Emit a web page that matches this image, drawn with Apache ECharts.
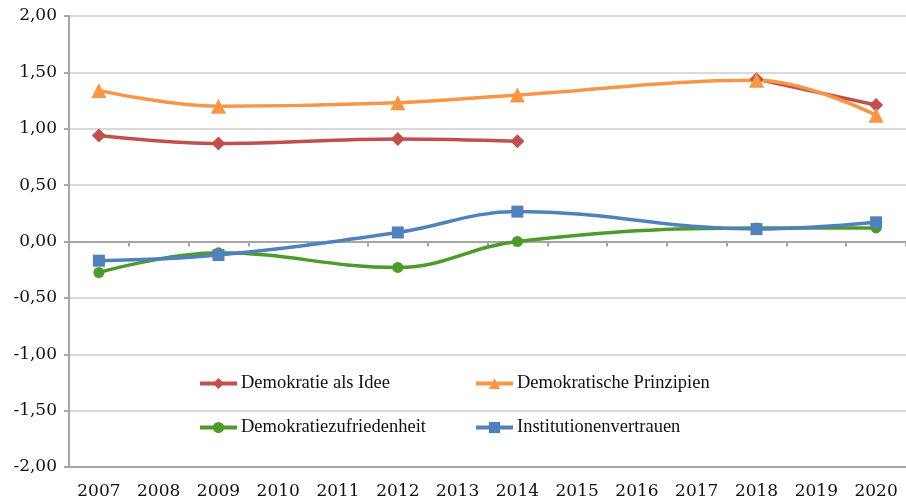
<!DOCTYPE html>
<html><head><meta charset="utf-8">
<script src="https://cdn.jsdelivr.net/npm/echarts@6/dist/echarts.min.js"></script>
<style>html,body{margin:0;padding:0;background:#fff}#c{width:906px;height:503px}</style>
</head><body><div id="c"></div>
<script>
const years = ['2007','2008','2009','2010','2011','2012','2013','2014','2015','2016','2017','2018','2019','2020'];
const idee1 = [['2007',0.94],['2009',0.87],['2012',0.91],['2014',0.89]];
const idee2 = [['2018',1.44],['2020',1.21]];
const prinzipien = [['2007',1.34],['2009',1.20],['2012',1.23],['2014',1.30],['2018',1.43],['2020',1.12]];
const zufriedenheit = [['2007',-0.275],['2009',-0.10],['2012',-0.23],['2014',0.0],['2018',0.12],['2020',0.12]];
const vertrauen = [['2007',-0.17],['2009',-0.12],['2012',0.08],['2014',0.265],['2018',0.11],['2020',0.17]];
const names = ['Demokratie als Idee','Demokratische Prinzipien','Demokratiezufriedenheit','Institutionenvertrauen'];

const FONT = 'Liberation Serif';
const NUMFONT = 'DejaVu Serif';
const chart = echarts.init(document.getElementById('c'), null, {renderer:'canvas'});
function lineSeries(name, data, color, symbol, size){
  return {name, type:'line', data, xAxisIndex:0, smooth:0.4, symbol, symbolSize:size,
    lineStyle:{width:3.5,color}, itemStyle:{color}, emphasis:{disabled:true}, z:3};
}
const legendBase = {orient:'horizontal', itemWidth:37, itemHeight:14, itemGap:4,
  lineStyle:{width:4},
  textStyle:{fontFamily:FONT,fontSize:18.5,color:'#111',padding:[0,0,0,-1]}};
chart.setOption({
  animation:false,
  grid:{left:69,right:0,top:16,bottom:36,containLabel:false},
  legend:[
    Object.assign({},legendBase,{data:[names[0]],left:193,top:369}),
    Object.assign({},legendBase,{data:[names[1]],left:469,top:369}),
    Object.assign({},legendBase,{data:[names[2]],left:193,top:413}),
    Object.assign({},legendBase,{data:[names[3]],left:469,top:413})
  ],
  xAxis:[
    {type:'category',data:years,boundaryGap:true,position:'bottom',
     axisLine:{onZero:false,lineStyle:{color:'#a6a6a6',width:2}},
     axisTick:{show:false},
     axisLabel:{fontFamily:NUMFONT,fontSize:17,color:'#111',margin:16},
     splitLine:{show:false}},
    {type:'category',data:years,boundaryGap:true,position:'bottom',
     axisLine:{onZero:true,lineStyle:{color:'#a6a6a6',width:2}},
     axisTick:{show:true,inside:false,length:5,lineStyle:{color:'#a6a6a6',width:2}},
     axisLabel:{show:false},splitLine:{show:false}}
  ],
  yAxis:{type:'value',min:-2,max:2,interval:0.5,
    axisLine:{show:true,lineStyle:{color:'#a6a6a6',width:2}},
    axisTick:{show:true,length:5,lineStyle:{color:'#a6a6a6',width:2}},
    axisLabel:{fontFamily:NUMFONT,fontSize:17,color:'#111',margin:12,
      formatter:v=>v.toFixed(2).replace('.',',')},
    splitLine:{show:true,lineStyle:{color:'#d9d9d9',width:2}}},
  series:[
    lineSeries(names[0], idee1, '#C0504D','diamond',14),
    lineSeries(names[0], idee2, '#C0504D','diamond',14),
    lineSeries(names[1], prinzipien, '#F79646','triangle',15),
    lineSeries(names[2], zufriedenheit, '#4E9A2A','circle',11),
    lineSeries(names[3], vertrauen, '#4F81BD','rect',12)
  ]
});
</script></body></html>
